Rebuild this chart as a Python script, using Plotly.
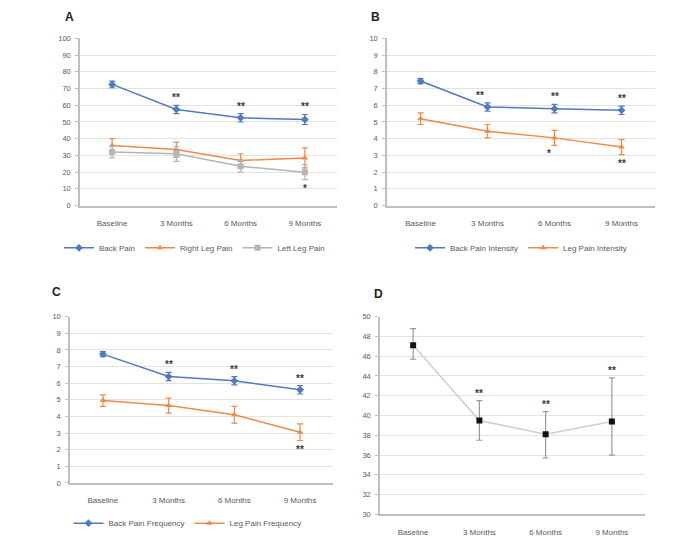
import plotly.graph_objects as go

cats = ["Baseline", "3 Months", "6 Months", "9 Months"]

# Panel A
a_back = [72.5, 57.5, 52.5, 51.5]
a_back_err = [2.0, 2.5, 2.5, 3.0]
a_right = [36.0, 33.5, 27.0, 28.5]
a_right_err = [4.0, 4.5, 4.0, 6.0]
a_left = [32.0, 31.0, 23.5, 20.0]
a_left_err = [3.5, 4.5, 3.5, 4.5]

# Panel B
b_back = [7.45, 5.9, 5.8, 5.7]
b_back_err = [0.15, 0.25, 0.25, 0.25]
b_leg = [5.2, 4.45, 4.05, 3.5]
b_leg_err = [0.35, 0.4, 0.45, 0.45]

# Panel C
c_back = [7.75, 6.4, 6.15, 5.6]
c_back_err = [0.15, 0.25, 0.25, 0.25]
c_leg = [4.95, 4.65, 4.1, 3.05]
c_leg_err = [0.35, 0.45, 0.5, 0.5]

# Panel D
d_val = [47.1, 39.5, 38.1, 39.4]
d_err_plus = [1.7, 2.0, 2.3, 4.4]
d_err_minus = [1.4, 2.0, 2.4, 3.4]

BLUE = "#4F79C2"
ORANGE = "#EE8A48"
GREY = "#B5B5B5"
FONT = "Liberation Sans"
TXT = "#595959"

fig = go.Figure()


def add_series(x, y, err, color, sym, name, ax, legend, showlegend=True, err_minus=None, mcolor=None, lcolor=None):
    ed = dict(type="data", array=err, color=color, thickness=1.2, width=3, visible=True)
    if err_minus is not None:
        ed["symmetric"] = False
        ed["arrayminus"] = err_minus
    fig.add_trace(go.Scatter(
        x=x, y=y, mode="lines+markers", name=name,
        line=dict(color=lcolor or color, width=1.5),
        marker=dict(symbol=sym, size=6, color=mcolor or color),
        error_y=ed,
        xaxis="x" + ax, yaxis="y" + ax,
        legend=legend, showlegend=showlegend,
    ))


add_series(cats, a_back, a_back_err, BLUE, "diamond", "Back Pain", "", "legend")
add_series(cats, a_right, a_right_err, ORANGE, "triangle-up", "Right Leg Pain", "", "legend")
add_series(cats, a_left, a_left_err, GREY, "square", "Left Leg Pain", "", "legend")

add_series(cats, b_back, b_back_err, BLUE, "diamond", "Back Pain Intensity", "2", "legend2")
add_series(cats, b_leg, b_leg_err, ORANGE, "triangle-up", "Leg Pain Intensity", "2", "legend2")

add_series(cats, c_back, c_back_err, BLUE, "diamond", "Back Pain Frequency", "3", "legend3")
add_series(cats, c_leg, c_leg_err, ORANGE, "triangle-up", "Leg Pain Frequency", "3", "legend3")

add_series(cats, d_val, d_err_plus, "#9a9a9a", "square", "ODI", "4", "legend", showlegend=False,
           err_minus=d_err_minus, mcolor="#111111", lcolor="#cfcfcf")

axis_common = dict(
    showline=True, linecolor="#BFBFBF", linewidth=1.5,
    zeroline=False,
)


def xax(dom):
    return dict(domain=dom, type="category", range=[-0.5, 3.5], showgrid=False,
                ticks="", ticklabelstandoff=9,
                tickfont=dict(family=FONT, size=8, color=TXT), **axis_common)


def yax(dom, anchor, rng, dtick):
    return dict(domain=dom, anchor=anchor, range=rng, dtick=dtick, showgrid=True,
                gridcolor="#E3E3E3", gridwidth=1, ticks="outside", ticklen=3,
                tickcolor="#BFBFBF", ticklabelstandoff=3,
                tickfont=dict(family=FONT, size=7.5, color=TXT), **axis_common)


W, H = 700, 540
pa_x = [80 / W, 337 / W]
pa_y = [1 - 205 / H, 1 - 35 / H]
pb_x = [387 / W, 655 / W]
pc_x = [70 / W, 333 / W]
pc_y = [1 - 487 / H, 1 - 318 / H]
pd_x = [380 / W, 645 / W]
pd_y = [1 - 519 / H, 1 - 318 / H]

fig.update_layout(
    width=W, height=H, margin=dict(l=0, r=0, t=0, b=0),
    paper_bgcolor="white", plot_bgcolor="white",
    font=dict(family=FONT, size=8, color=TXT),
    xaxis=dict(anchor="y", **xax(pa_x)),
    yaxis=yax(pa_y, "x", [0, 100], 10),
    xaxis2=dict(anchor="y2", **xax(pb_x)),
    yaxis2=yax(pa_y, "x2", [0, 10], 1),
    xaxis3=dict(anchor="y3", **xax(pc_x)),
    yaxis3=yax(pc_y, "x3", [0, 10], 1),
    xaxis4=dict(anchor="y4", **xax(pd_x)),
    yaxis4=yax(pd_y, "x4", [30, 50], 2),
    legend=dict(orientation="h", x=(pa_x[0] + pa_x[1]) / 2 - 0.02, xanchor="center",
                y=1 - 248 / H, yanchor="middle", font=dict(size=8, color=TXT, family=FONT),
                bgcolor="rgba(0,0,0,0)", itemwidth=30),
    legend2=dict(orientation="h", x=(pb_x[0] + pb_x[1]) / 2, xanchor="center",
                 y=1 - 248 / H, yanchor="middle", font=dict(size=8, color=TXT, family=FONT),
                 bgcolor="rgba(0,0,0,0)", itemwidth=30),
    legend3=dict(orientation="h", x=(pc_x[0] + pc_x[1]) / 2 - 0.02, xanchor="center",
                 y=1 - 528 / H, yanchor="middle", font=dict(size=8, color=TXT, family=FONT),
                 bgcolor="rgba(0,0,0,0)", itemwidth=30),
)

anns = []


def star(ax, idx, vals, errs, text, above=True, xshift=0):
    y = vals[idx] + errs[idx] if above else vals[idx] - errs[idx]
    anns.append(dict(x=cats[idx], y=y, xref="x" + ax, yref="y" + ax, text="<b>%s</b>" % text,
                     showarrow=False, yanchor="bottom" if above else "top",
                     yshift=0 if above else -1, xshift=xshift,
                     font=dict(family=FONT, size=10, color="#3a3a3a")))


for i in (1, 2, 3):
    star("", i, a_back, a_back_err, "**")
star("", 3, a_left, a_left_err, "*", above=False)

star("2", 1, b_back, b_back_err, "**", xshift=-8)
star("2", 2, b_back, b_back_err, "**")
star("2", 3, b_back, b_back_err, "**")
star("2", 2, b_leg, b_leg_err, "*", above=False, xshift=-6)
star("2", 3, b_leg, b_leg_err, "**", above=False)

for i in (1, 2, 3):
    star("3", i, c_back, c_back_err, "**")
star("3", 3, c_leg, c_leg_err, "**", above=False)

for i in (1, 2, 3):
    star("4", i, d_val, d_err_plus, "**")

for letter, (px, py) in zip("ABCD", [(69, 13), (375, 13), (56, 293), (378, 295)]):
    anns.append(dict(x=px / W, y=1 - py / H, xref="paper", yref="paper", text="<b>%s</b>" % letter,
                     showarrow=False, xanchor="center", yanchor="middle",
                     font=dict(family=FONT, size=12, color="#222222")))

fig.update_layout(annotations=anns)
fig.write_html("out.html")
